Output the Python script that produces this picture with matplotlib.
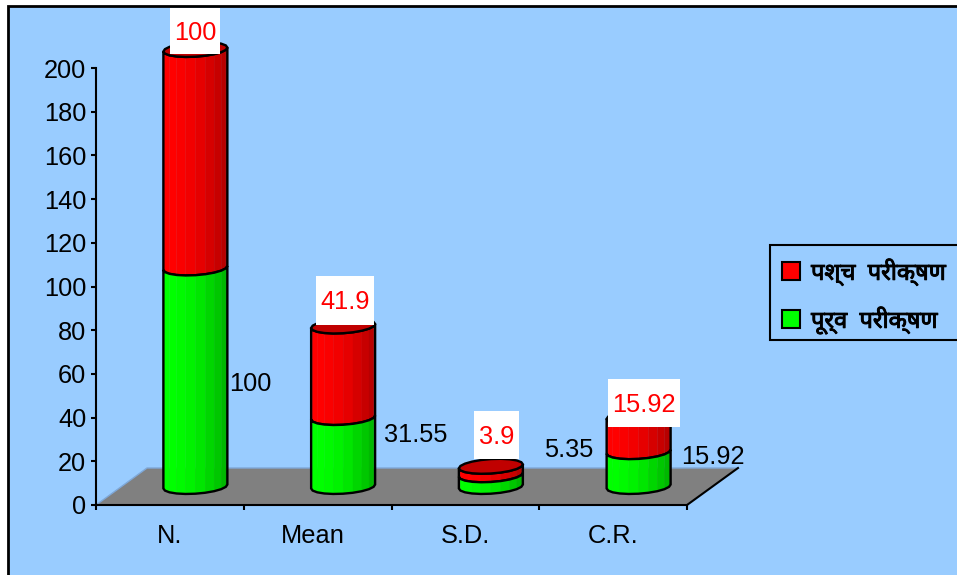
import numpy as np
import matplotlib
matplotlib.use("Agg")
import matplotlib.pyplot as plt
import matplotlib.patheffects as pe
from matplotlib.patches import Polygon, Rectangle
from matplotlib.transforms import Affine2D

categories = ["N.", "Mean", "S.D.", "C.R."]
pre_test = [100, 31.55, 5.35, 15.92]
post_test = [100, 41.9, 3.9, 15.92]
y_ticks = list(range(0, 201, 20))
pre_name = "पूर्व  परीक्षण"
post_name = "पश्च  परीक्षण"

BG = "#99CCFF"
GREEN = np.array([0, 255, 0]) / 255
RED = np.array([255, 0, 0]) / 255
SHADE = [0.95, 1, 1, 0.98, 0.95, 0.9, 0.84, 0.78, 0.72, 0.66]

plt.rcParams["font.family"] = ["Liberation Sans", "DejaVu Sans"]

fig = plt.figure(figsize=(9.57, 5.75), dpi=100, facecolor="white")
ax = fig.add_axes([96 / 957, 1 - 505 / 575, (687 - 96) / 957, (505 - 68) / 575])
ax.patch.set_visible(False)
ax.set_xlim(0, 4)
ax.set_ylim(0, 200)

# pixel coordinates, origin top left
px = Affine2D().scale(1 / 957, -1 / 575).translate(0, 1) + fig.transFigure

ax.add_patch(Rectangle((8, 6), 960, 580, transform=px, fc=BG, ec="black", lw=2, zorder=-5, clip_on=False))

# floor of the 3d box
DEPTH_X = 51 / 147.75
DEPTH_Y = 37 / 2.185
floor = [(0, 0), (DEPTH_X, DEPTH_Y), (4 + DEPTH_X, DEPTH_Y), (4, 0)]
ax.add_patch(Polygon(floor, fc="#808080", ec="none", zorder=1, clip_on=False))
ax.plot([0, DEPTH_X, 4 + DEPTH_X], [0, DEPTH_Y, DEPTH_Y], color="#7FA8D8", lw=1, zorder=1, clip_on=False)
ax.plot([4, 4 + DEPTH_X], [0, DEPTH_Y], color="black", lw=1.5, zorder=1.5, clip_on=False)

HALF_W = 32 / 147.75
MINOR = 3.3
TILT = 0.9


def rim(cx, y, t):
    return cx + HALF_W * np.cos(t), y - MINOR * np.sin(t) + TILT * np.cos(t)


def segment(cx, y0, y1, color, z):
    # front of a cylinder piece, one polygon per facet
    t = np.linspace(np.pi, 0, len(SHADE) + 1)
    for i, s in enumerate(SHADE):
        xa, ya = rim(cx, y0, t[i])
        xb, yb = rim(cx, y0, t[i + 1])
        xc, yc = rim(cx, y1, t[i + 1])
        xd, yd = rim(cx, y1, t[i])
        ax.add_patch(Polygon([(xa, ya), (xb, yb), (xc, yc), (xd, yd)], fc=color * s, ec=color * s, lw=0.3,
                             zorder=z, clip_on=False))
    xs0, ys0 = rim(cx, y0, t)
    xs1, ys1 = rim(cx, y1, t[::-1])
    ax.add_patch(Polygon(np.r_[np.c_[xs0, ys0], np.c_[xs1, ys1]], fc="none", ec="black", lw=1.7,
                         zorder=z + 0.1, clip_on=False))


for i in range(len(categories)):
    cx = i + 0.5 + DEPTH_X / 2
    base = DEPTH_Y / 2
    top_pre = base + pre_test[i]
    top_post = top_pre + post_test[i]
    segment(cx, top_pre, top_post, RED, 3)
    tt = np.linspace(0, 2 * np.pi, 21)
    xs, ys = rim(cx, top_post, tt)
    ax.add_patch(Polygon(np.c_[xs, ys], fc="#C00000", ec="black", lw=1.7, zorder=3.2, clip_on=False))
    segment(cx, base, top_pre, GREEN, 3.5)

# value labels, the red ones sit on white boxes
pre_pos = [(250, 384), (416, 435), (569, 450), (713, 457)]
post_box = [(170, 8, 50, 46), (316, 276, 58, 49), (474, 411, 45, 48), (608, 379, 72, 48)]
for i in range(len(categories)):
    x, y = pre_pos[i]
    ax.text(x, y, f"{pre_test[i]:g}", transform=px, fontsize=18.3, ha="center", va="center", color="black",
            zorder=6, clip_on=False)
    bx, by, bw, bh = post_box[i]
    ax.add_patch(Rectangle((bx, by), bw, bh, transform=px, fc="white", ec="none", zorder=6, clip_on=False))
    ax.text(bx + bw / 2, by + bh / 2 + 1.5, f"{post_test[i]:g}", transform=px, fontsize=18.3, ha="center",
            va="center", color="#FF0000", zorder=7, clip_on=False)

ax.set_yticks(y_ticks)
ax.set_xticks(range(5))
ax.set_xticklabels([])
ax.set_xticks(np.arange(len(categories)) + 0.5, categories, minor=True)
ax.tick_params(axis="x", which="minor", length=0, labelsize=18.3, pad=14)
ax.tick_params(axis="x", which="major", length=3.6, width=1.5)
ax.tick_params(axis="y", length=3.6, width=1.5, labelsize=18.3, pad=3.5)
for side in ["top", "right"]:
    ax.spines[side].set_visible(False)
for side in ["left", "bottom"]:
    ax.spines[side].set_linewidth(1.5)

# "Mean" sits a little left of its slot
mean_label = ax.get_xticklabels(minor=True)[1]
mean_label.set_transform(mean_label.get_transform() + Affine2D().translate(-5, 0))

# legend box runs off the right side
ax.add_patch(Rectangle((770, 245), 200, 95, transform=px, fc=BG, ec="black", lw=1.5, zorder=6, clip_on=False))
deva = ["Noto Sans", "DejaVu Sans"]
for y, c, name in [(271, "#FF0000", post_name), (319, "#00FF00", pre_name)]:
    ax.add_patch(Rectangle((782, y - 9), 18, 18, transform=px, fc=c, ec="black", lw=1.5, zorder=7, clip_on=False))
    t = ax.text(811, y + 1, name, transform=px, fontsize=17, ha="left", va="center", family=deva,
                zorder=7, clip_on=False)
    t.set_path_effects([pe.withStroke(linewidth=0.7, foreground="black")])

fig.savefig("out.png", dpi=100)
